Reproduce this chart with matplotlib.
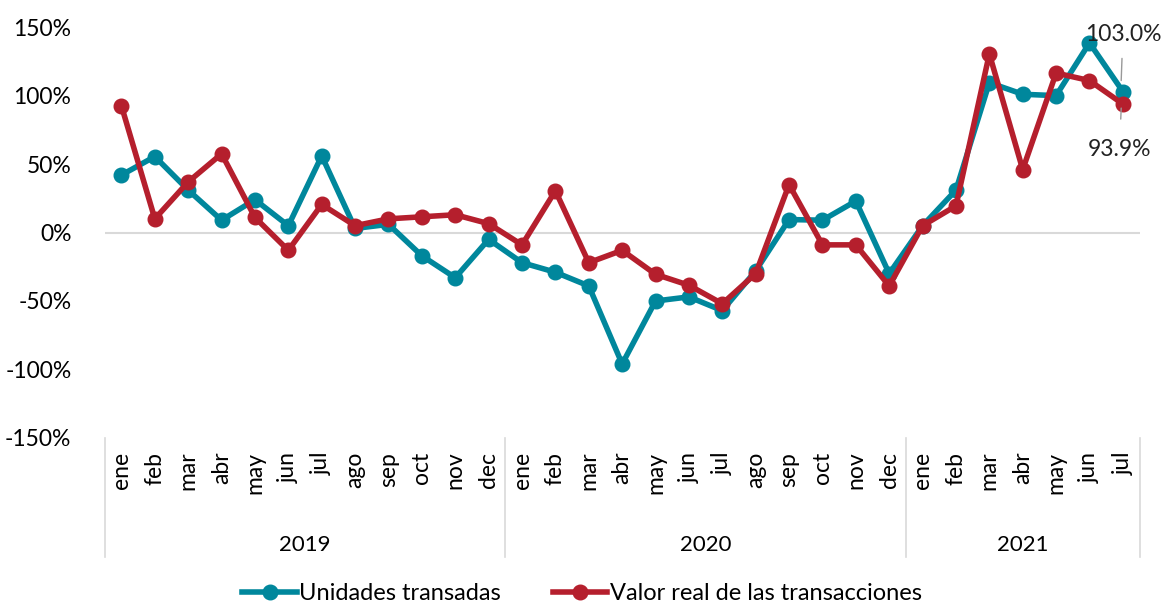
import numpy as np
import matplotlib.pyplot as plt
import matplotlib.transforms as mtransforms

# data
meses = ['ene', 'feb', 'mar', 'abr', 'may', 'jun', 'jul', 'ago', 'sep', 'oct', 'nov', 'dec']
months = meses + meses + meses[:7]
years = ['2019', '2020', '2021']
year_len = [12, 12, 7]

unidades = [42, 55.5, 31, 9, 24, 5, 56, 3, 6, -17, -33, -5,
            -22, -29, -39, -96, -50, -47, -57, -28, 9.5, 9, 23, -30,
            5, 31, 109.5, 101, 100, 138.5, 103.0]
valor = [92.5, 10, 37, 57.5, 11, -13, 20.5, 5, 10, 11.5, 13, 6.5,
         -9, 30.5, -22, -13, -30.5, -38.5, -52, -30, 35, -9, -9, -39,
         5, 19.5, 130.5, 46, 116.5, 111, 93.9]

teal = '#00879C'
red = '#B51F2D'
plt.rcParams['font.family'] = ['Lato', 'DejaVu Sans']

fig = plt.figure(figsize=(11.64, 6.04), dpi=100)
ax = fig.add_axes([0.09, 0.275, 0.889, 0.68])

x = np.arange(len(months))
ax.plot(x, unidades, color=teal, lw=4, marker='o', ms=10.5, label='Unidades transadas')
ax.plot(x, valor, color=red, lw=4, marker='o', ms=10.5, label='Valor real de las transacciones')
ax.axhline(0, color='#d9d9d9', lw=1.5, zorder=0)

ax.set_xlim(-0.5, len(months) - 0.5)
ax.set_ylim(-150, 150)
ax.set_yticks(np.arange(-150, 151, 50))
ax.set_yticklabels([f'{v}%' for v in range(-150, 151, 50)], fontsize=16.5)
ax.set_xticks(x)
ax.set_xticklabels(months, rotation=90, fontsize=16.5)
ax.tick_params(length=0)
ax.tick_params(axis='y', pad=24)
ax.tick_params(axis='x', pad=10)
for s in ax.spines.values():
    s.set_visible(False)

# year groups
trans = mtransforms.blended_transform_factory(ax.transData, ax.transAxes)
start = 0
bounds = [-0.5]
for yr, n in zip(years, year_len):
    ax.text(start + (n - 1) / 2, -0.26, yr, transform=trans, ha='center', va='center', fontsize=16)
    start += n
    bounds.append(start - 0.5)
for b in bounds:
    ax.plot([b, b], [0, -0.29], transform=trans, color='#d9d9d9', lw=1.2, clip_on=False)

# end labels
n = len(months) - 1
ax.annotate(f'{unidades[-1]:.1f}%', xy=(n - 0.05, unidades[-1] + 8), xytext=(n, 145),
            ha='center', va='center', fontsize=16.5, color='#222222',
            arrowprops=dict(arrowstyle='-', color='#999999', lw=1, shrinkA=8, shrinkB=0))
ax.annotate(f'{valor[-1]:.1f}%', xy=(n - 0.05, valor[-1] - 3), xytext=(n - 0.1, 61),
            ha='center', va='center', fontsize=16.5, color='#222222',
            arrowprops=dict(arrowstyle='-', color='#999999', lw=1, shrinkA=12, shrinkB=0))

fig.legend(loc='lower center', bbox_to_anchor=(0.5, -0.035), ncol=2, frameon=False,
           fontsize=17, handlelength=2.3, columnspacing=2.2, handletextpad=0.1)

fig.savefig('out.png', dpi=100)
